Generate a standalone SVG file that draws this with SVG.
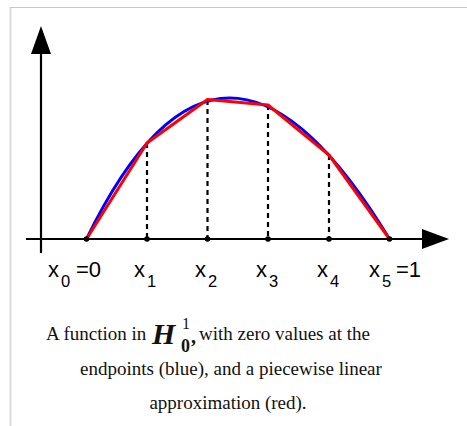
<svg xmlns="http://www.w3.org/2000/svg" width="467" height="426" viewBox="0 0 467 426">
<style>
.axis{stroke:#000;stroke-width:2.2;fill:none}
.dash{stroke:#000;stroke-width:2.2;stroke-dasharray:5,4;fill:none}
.lbl{font-family:"Liberation Sans",Arial,sans-serif;font-size:22px;fill:#000}
.sub{font-size:16.5px}
.cap{font-family:"Liberation Serif","Times New Roman",serif;font-size:19px;fill:#111}
</style>
<rect width="467" height="426" fill="#fff"/>
<g id="frame">
<line x1="10.5" y1="7" x2="10.5" y2="426" stroke="#dcdcdc" stroke-width="2"/>
<line x1="10" y1="7.5" x2="467" y2="7.5" stroke="#c8c8c8" stroke-width="1.2"/>
</g>
<g id="axes">
<line class="axis" x1="41" y1="52" x2="41" y2="253"/>
<polygon points="41,26 31,54 51,54" fill="#000"/>
<line class="axis" x1="26" y1="239" x2="424" y2="239"/>
<polygon points="449,239 422,229 422,249" fill="#000"/>
</g>
<g id="connectors">
<line class="dash" x1="147" y1="143" x2="147" y2="239"/>
<line class="dash" x1="207.5" y1="100" x2="207.5" y2="239"/>
<line class="dash" x1="268" y1="105" x2="268" y2="239"/>
<line class="dash" x1="329" y1="155" x2="329" y2="239"/>
</g>
<g id="blue-curve">
<path d="M86.5,239 C187.5,30.67 288.5,72.33 389.5,239" fill="none" stroke="#0000ff" stroke-width="3"/>
</g>
<g id="red-approx">
<polyline points="86.5,239 147,143 207.5,99.5 268,105 329,155 389.5,239" fill="none" stroke="#ff0000" stroke-width="3" stroke-linejoin="round"/>
</g>
<g id="nodes" fill="#000">
<circle cx="86.5" cy="239" r="2.8"/>
<circle cx="147" cy="239" r="2.8"/>
<circle cx="207.5" cy="239" r="2.8"/>
<circle cx="268" cy="239" r="2.8"/>
<circle cx="329" cy="239" r="2.8"/>
<circle cx="389.5" cy="239" r="2.8"/>
</g>
<g id="labels">
<text class="lbl"><tspan x="48" y="277">x</tspan><tspan class="sub" x="61" y="287">0</tspan><tspan x="76" y="277">=0</tspan></text>
<text class="lbl"><tspan x="134" y="277">x</tspan><tspan class="sub" x="147" y="287">1</tspan></text>
<text class="lbl"><tspan x="195" y="277">x</tspan><tspan class="sub" x="208" y="287">2</tspan></text>
<text class="lbl"><tspan x="256" y="277">x</tspan><tspan class="sub" x="269" y="287">3</tspan></text>
<text class="lbl"><tspan x="317" y="277">x</tspan><tspan class="sub" x="330" y="287">4</tspan></text>
<text class="lbl"><tspan x="369" y="277">x</tspan><tspan class="sub" x="382" y="287">5</tspan><tspan x="396" y="277">=1</tspan></text>
</g>
<g id="caption">
<text class="cap" x="46" y="340">A function in</text>
<text x="152" y="344" font-family="'Liberation Serif','Times New Roman',serif" font-style="italic" font-weight="bold" font-size="30" fill="#111">H</text>
<text x="182" y="329" font-family="'Liberation Serif','Times New Roman',serif" font-size="16" fill="#111">1</text>
<text x="181" y="352" font-family="'Liberation Serif','Times New Roman',serif" font-weight="bold" font-size="18" fill="#111">0</text>
<text x="191" y="343" font-family="'Liberation Serif','Times New Roman',serif" font-weight="bold" font-size="20" fill="#111">,</text>
<text class="cap" x="199" y="340">with zero values at the</text>
<text class="cap" x="231" y="375" text-anchor="middle">endpoints (blue), and a piecewise linear</text>
<text class="cap" x="228" y="409" text-anchor="middle">approximation (red).</text>
</g>
</svg>
